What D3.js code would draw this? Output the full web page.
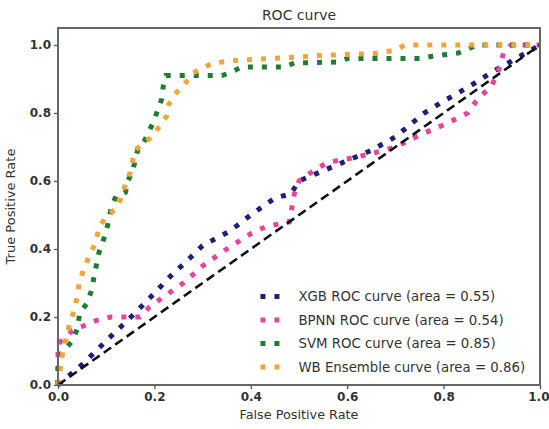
<!DOCTYPE html>
<html>
<head>
<meta charset="utf-8">
<script src="https://cdn.jsdelivr.net/npm/d3@7"></script>
<style>
  body { margin: 0; background: #fff; }
  text { font-family: "DejaVu Sans", sans-serif; fill: #333; }
</style>
</head>
<body>
<div id="chart"></div>
<script>
// ROC curve points: [fpr, tpr]
const xgb = [[0,0],[0.05,0.06],[0.1,0.13],[0.158,0.209],[0.2,0.27],[0.24,0.33],[0.261,0.356],
  [0.3,0.41],[0.357,0.453],[0.4,0.5],[0.45,0.55],[0.483,0.562],[0.5,0.6],[0.55,0.63],
  [0.6,0.66],[0.65,0.69],[0.7,0.73],[0.76,0.8],[0.8,0.835],[0.85,0.875],[0.9,0.92],
  [0.95,0.96],[1,1]];
const bpnn = [[0,0],[0,0.12],[0.03,0.16],[0.08,0.19],[0.11,0.2],[0.17,0.2],[0.19,0.23],
  [0.24,0.28],[0.26,0.3],[0.3,0.35],[0.35,0.4],[0.4,0.445],[0.43,0.465],[0.48,0.48],
  [0.49,0.56],[0.5,0.6],[0.53,0.63],[0.56,0.655],[0.6,0.665],[0.65,0.68],[0.7,0.7],
  [0.75,0.735],[0.8,0.765],[0.85,0.8],[0.87,0.84],[0.9,0.88],[0.915,0.93],[0.925,0.98],
  [0.94,1.0],[1,1]];
const svm = [[0,0],[0,0.05],[0.005,0.09],[0.03,0.13],[0.04,0.165],[0.045,0.21],[0.06,0.24],
  [0.07,0.28],[0.075,0.32],[0.08,0.355],[0.085,0.39],[0.095,0.43],[0.105,0.48],[0.11,0.52],
  [0.12,0.555],[0.14,0.567],[0.145,0.6],[0.155,0.63],[0.165,0.69],[0.18,0.72],[0.19,0.75],
  [0.2,0.78],[0.207,0.81],[0.215,0.84],[0.218,0.876],[0.224,0.91],[0.34,0.91],[0.36,0.92],
  [0.38,0.935],[0.47,0.935],[0.49,0.947],[0.58,0.95],[0.6,0.96],[0.75,0.96],[0.78,0.968],
  [0.83,0.976],[0.85,0.988],[0.87,1.0],[1,1]];
const wb = [[0,0],[0.01,0.1],[0.02,0.155],[0.025,0.185],[0.035,0.225],[0.04,0.265],
  [0.045,0.305],[0.055,0.347],[0.065,0.38],[0.077,0.415],[0.085,0.46],[0.098,0.494],
  [0.12,0.518],[0.13,0.547],[0.14,0.59],[0.15,0.626],[0.155,0.66],[0.16,0.69],[0.175,0.71],
  [0.19,0.725],[0.2,0.74],[0.21,0.76],[0.225,0.79],[0.23,0.826],[0.247,0.862],[0.265,0.89],
  [0.28,0.918],[0.3,0.932],[0.322,0.947],[0.38,0.956],[0.44,0.96],[0.5,0.965],[0.56,0.97],
  [0.66,0.975],[0.7,0.985],[0.72,1.0],[1,1]];
const labels = ["XGB ROC curve (area = 0.55)", "BPNN ROC curve (area = 0.54)",
  "SVM ROC curve (area = 0.85)", "WB Ensemble curve (area = 0.86)"];
const ticks = [0, 0.2, 0.4, 0.6, 0.8, 1.0];

const series = [
  {pts: xgb, color: "#1f1f78"},
  {pts: bpnn, color: "#e8459a"},
  {pts: svm, color: "#1e7d32"},
  {pts: wb, color: "#f2a33a"}
];

const margin = {top: 28, right: 9, bottom: 44, left: 58},
      width = 549 - margin.left - margin.right,
      height = 429 - margin.top - margin.bottom;

const svg = d3.select("#chart")
    .append("svg")
    .attr("width", 549)
    .attr("height", 429)
  .append("g")
    .attr("transform", `translate(${margin.left},${margin.top})`);

const x = d3.scaleLinear().domain([0, 1]).range([0, width]);
const y = d3.scaleLinear().domain([0, 1.05]).range([height, 0]);

const line = d3.line().x(d => x(d[0])).y(d => y(d[1]));

// curves
series.forEach(s => {
    svg.append("path")
        .datum(s.pts)
        .attr("fill", "none")
        .attr("stroke", s.color)
        .attr("stroke-width", 5)
        .attr("stroke-dasharray", "5,9")
        .attr("d", line);
});

// chance diagonal
svg.append("path")
    .datum([[0, 0], [1, 1]])
    .attr("fill", "none")
    .attr("stroke", "#111")
    .attr("stroke-width", 2.6)
    .attr("stroke-dasharray", "9,5")
    .attr("d", line);

// axes
const xAxis = svg.append("g")
    .attr("transform", `translate(0,${height})`)
    .call(d3.axisBottom(x).tickValues(ticks).tickFormat(d3.format(".1f")).tickSize(4).tickPadding(3));
const yAxis = svg.append("g")
    .call(d3.axisLeft(y).tickValues(ticks).tickFormat(d3.format(".1f")).tickSize(4).tickPadding(3));
[xAxis, yAxis].forEach(a => {
    a.select(".domain").remove();
    a.selectAll("line").attr("stroke", "#555").attr("stroke-width", 1.3);
    a.selectAll("text").style("font-size", "12px").style("font-weight", "bold").attr("fill", "#444");
});
// keep the last x label inside the window
xAxis.selectAll("text").filter(d => d === 1).attr("text-anchor", "end").attr("dx", "0.75em");

// frame
svg.append("rect")
    .attr("width", width)
    .attr("height", height)
    .attr("fill", "none")
    .attr("stroke", "#666")
    .attr("stroke-width", 2);

// title and axis labels
svg.append("text")
    .attr("x", width / 2)
    .attr("y", -8)
    .attr("text-anchor", "middle")
    .style("font-size", "14px")
    .text("ROC curve");

svg.append("text")
    .attr("x", width / 2)
    .attr("y", height + 34)
    .attr("text-anchor", "middle")
    .style("font-size", "12.8px")
    .text("False Positive Rate");

svg.append("text")
    .attr("transform", "rotate(-90)")
    .attr("x", -height / 2)
    .attr("y", -43)
    .attr("text-anchor", "middle")
    .style("font-size", "13px")
    .text("True Positive Rate");

// legend
const legend = svg.append("g")
    .attr("transform", `translate(${x(0.42)},${y(0.26)})`);
series.forEach((s, i) => {
    const row = legend.append("g").attr("transform", `translate(0,${i * 23.5})`);
    row.append("line")
        .attr("x1", 0).attr("x2", 22)
        .attr("stroke", s.color)
        .attr("stroke-width", 5)
        .attr("stroke-dasharray", "5,9");
    row.append("text")
        .attr("x", 38)
        .attr("dy", "0.35em")
        .style("font-size", "13.3px")
        .text(labels[i]);
});
</script>
</body>
</html>
